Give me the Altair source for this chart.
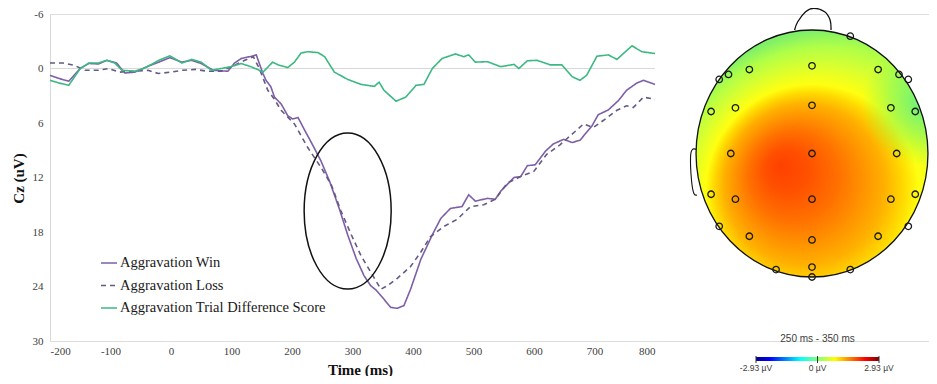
import altair as alt
import pandas as pd

# ---------------- ERP waveforms at Cz (time ms, amplitude uV) ----------------
win_t = [-200, -185, -169, -150, -136, -120, -106, -90, -76, -60, -38, -20, -2, 18, 34, 50, 70, 94, 105, 116,
         133, 141, 146, 152, 157, 165, 171, 182, 188, 193, 201, 210, 223, 234, 248, 262, 278, 292, 306, 319,
         330, 339, 352, 363, 374, 385, 396, 413, 432, 446, 462, 481, 492, 503, 523, 536, 545, 567, 578, 589,
         602, 619, 632, 649, 663, 676, 696, 706, 723, 740, 753, 770, 781, 800]
win_v = [0.75, 1.1, 1.4, 0.0, -0.55, -0.5, -0.9, -0.6, 0.5, 0.4, -0.25, -0.7, -1.2, -0.7, -0.9, -0.55, 0.2, 0.3, -0.6, -1.1,
         -1.35, -1.5, -0.55, 0.55, 1.3, 2.0, 3.15, 3.9, 4.6, 5.2, 5.55, 5.4, 7.05, 8.4, 10.2, 12.4, 15.4, 18.3, 20.9, 22.8,
         23.9, 24.4, 25.4, 26.3, 26.4, 26.1, 24.3, 21.0, 18.3, 16.5, 15.4, 15.2, 13.9, 14.6, 14.3, 14.4, 13.5, 12.0, 11.9, 10.7,
         10.6, 9.1, 8.3, 7.8, 8.15, 7.9, 6.3, 5.1, 4.55, 3.5, 2.4, 1.6, 1.3, 1.75]

loss_t = [-200, -178, -160, -142, -120, -103, -86, -60, -38, -21, 0, 18, 40, 60, 83, 105, 122, 136, 146, 160,
          170, 182, 204, 226, 248, 265, 281, 298, 314, 330, 347, 358, 374, 396, 413, 429, 451, 473, 495, 517,
          536, 556, 578, 600, 621, 643, 660, 682, 698, 715, 737, 753, 764, 781, 800]
loss_v = [-0.6, -0.6, -0.35, 0.2, 0.2, 0.0, 0.4, 0.3, 0.2, 0.55, 0.4, 0.2, 0.1, 0.3, 0.3, -0.35, -0.9, -1.3, 0.0, 2.4,
          3.3, 4.6, 6.1, 8.7, 10.9, 12.8, 15.7, 18.3, 20.6, 22.4, 24.3, 23.9, 23.1, 21.8, 20.2, 18.5, 17.4, 16.6, 15.2, 15.0,
          14.4, 12.6, 11.9, 11.3, 9.45, 8.4, 7.4, 6.1, 6.5, 5.7, 4.6, 4.1, 4.3, 3.15, 3.4]

diff_t = [-200, -185, -169, -150, -136, -120, -106, -93, -81, -60, -45, -20, -2, 18, 34, 50, 67, 83, 99, 116,
          132, 146, 152, 168, 177, 193, 204, 215, 226, 243, 254, 270, 292, 314, 336, 344, 352, 372, 388, 405,
          418, 432, 448, 470, 484, 492, 503, 523, 545, 567, 575, 589, 605, 627, 646, 663, 676, 687, 704, 723,
          737, 762, 778, 800]
diff_v = [1.3, 1.6, 1.85, 0.0, -0.6, -0.6, -0.9, -0.6, 0.2, 0.3, 0.0, -0.9, -1.4, -0.6, -1.0, -0.7, 0.2, 0.0, -0.2, -0.55,
          -0.2, 0.2, 0.4, -0.7, -0.4, -0.1, -0.7, -1.7, -1.85, -1.75, -1.3, 0.4, 1.2, 1.75, 1.97, 1.5, 2.4, 3.6, 3.15, 1.85,
          1.75, 0.0, -1.1, -1.6, -1.3, -1.5, -0.7, -0.75, -0.2, -0.45, 0.0, -0.85, -0.9, -0.4, -0.4, 0.9, 1.3, 0.75, -1.35, -1.5,
          -1.0, -2.5, -1.85, -1.65]

series_names = ["Aggravation Win", "Aggravation Loss", "Aggravation Trial Difference Score"]
series_colors = ["#7d5fa8", "#655985", "#3cb882"]
series_dash = [[1, 0], [5, 4], [1, 0]]

x_ticks = [-200, -100, 0, 100, 200, 300, 400, 500, 600, 700, 800]
y_ticks = [-6, 0, 6, 12, 18, 24, 30]

# annotation ellipse centre (ms, uV)
ellipse_t = [292]
ellipse_v = [15.7]

# ---------------- Topographic map (head-normalised coordinates) ----------------
elec_x = [0.33, 0.0, -0.54, -0.72, -0.80, 0.57, 0.75, 0.83, -0.87, -0.66, 0.0, 0.68, 0.89, -0.70, 0.0,
          0.73, -0.87, -0.66, 0.0, 0.68, 0.89, -0.80, -0.54, 0.0, 0.57, 0.83, -0.31, 0.0, 0.33, 0.0]
elec_y = [0.95, 0.71, 0.68, 0.64, 0.60, 0.68, 0.64, 0.60, 0.34, 0.37, 0.39, 0.37, 0.34, 0.0, 0.0,
          0.0, -0.33, -0.37, -0.37, -0.37, -0.33, -0.59, -0.67, -0.70, -0.67, -0.59, -0.94, -0.92, -0.94, -1.0]
nose_x = [-0.15, -0.123, -0.055, 0.014, 0.109, 0.156, 0.164]
nose_y = [1.0, 1.067, 1.148, 1.176, 1.148, 1.081, 1.0]
ear_x = [-0.984, -1.03, -1.047, -1.039, -1.019, -0.992]
ear_y = [0.028, 0.034, -0.026, -0.215, -0.322, -0.336]

cbar_vals = [-2.93, 0.0, 2.93]
cbar_labels = ["-2.93 µV", "0 µV", "2.93 µV"]
cbar_title = "250 ms - 350 ms"

SERIF = "Liberation Serif"
SANS = "Liberation Sans"

# ---------------- ERP panel ----------------
frames = []
for name, ts, vs in zip(series_names, [win_t, loss_t, diff_t], [win_v, loss_v, diff_v]):
    frames.append(pd.DataFrame({"t": ts, "v": vs, "series": name}))
erp_df = pd.concat(frames, ignore_index=True)

x_scale = alt.Scale(domain=[-200, 800], range=[0, 605], nice=False, zero=False)
y_scale = alt.Scale(domain=[-6, 30], reverse=True, nice=False, zero=False)
x_axis = alt.Axis(values=x_ticks, title="Time (ms)", domain=False, ticks=False, grid=False,
                  labelExpr="'' + datum.value",
                  labelPadding=4, labelFont=SERIF, labelFontSize=11, labelColor="#404040",
                  titleFont=SERIF, titleFontSize=15, titleFontWeight="bold", titleColor="#111111",
                  titleX=310, titleY=28, titleBaseline="middle", titleAlign="center")
y_axis = alt.Axis(values=y_ticks, title="Cz (uV)", domain=True, domainColor="#d9d9d9", ticks=False, grid=False,
                  labelExpr="'' + datum.value",
                  labelPadding=7, labelFont=SERIF, labelFontSize=11, labelColor="#404040",
                  titleFont=SERIF, titleFontSize=15, titleFontWeight="bold", titleColor="#111111",
                  titleX=-32, titleY=164, titleAngle=270, titleBaseline="middle", titleAlign="center")

legend = alt.Legend(title=None, orient="none", legendX=50, legendY=240, symbolType="stroke",
                    symbolSize=256, symbolStrokeWidth=1.6, labelFont=SERIF, labelFontSize=14.5,
                    labelColor="#1a1a1a", labelOffset=2, rowPadding=6.5, padding=0, labelLimit=400)

lines = alt.Chart(erp_df).mark_line(strokeWidth=1.6).encode(
    x=alt.X("t:Q", scale=x_scale, axis=x_axis),
    y=alt.Y("v:Q", scale=y_scale, axis=y_axis),
    color=alt.Color("series:N", scale=alt.Scale(domain=series_names, range=series_colors), legend=legend),
    strokeDash=alt.StrokeDash("series:N", scale=alt.Scale(domain=series_names, range=series_dash), legend=legend),
)

zero_df = pd.DataFrame({"t": [x_ticks[0]], "t2": [x_ticks[-1]], "v": [0]})
zero_rule = alt.Chart(zero_df).mark_rule(color="#d9d9d9", strokeWidth=1).encode(
    x=alt.X("t:Q", scale=x_scale, axis=x_axis), x2="t2:Q",
    y=alt.Y("v:Q", scale=y_scale, axis=y_axis),
)

ellipse_path = ("M 0 -1 C 0.308 -1 0.558 -0.552 0.558 0 C 0.558 0.552 0.308 1 0 1 "
                "C -0.308 1 -0.558 0.552 -0.558 0 C -0.558 -0.552 -0.308 -1 0 -1 Z")
ell_df = pd.DataFrame({"t": ellipse_t, "v": ellipse_v})
ellipse = alt.Chart(ell_df).mark_point(shape=ellipse_path, size=24336, filled=False, stroke="#111111",
                                       strokeWidth=1.5, opacity=1).encode(
    x=alt.X("t:Q", scale=x_scale, axis=x_axis),
    y=alt.Y("v:Q", scale=y_scale, axis=y_axis),
)

erp = alt.layer(zero_rule, lines, ellipse)

# ---------------- Head map panel ----------------
hx = alt.Scale(domain=[-1, 1], range=[646, 878], nice=False, zero=False)
hy = alt.Scale(domain=[-1, 1], range=[263, 16], nice=False, zero=False)

head_path = ("M 0 -1 C 0.519 -1 0.939 -0.552 0.939 0 C 0.939 0.552 0.519 1 0 1 "
             "C -0.519 1 -0.939 0.552 -0.939 0 C -0.939 -0.552 -0.519 -1 0 -1 Z")

main_grad = {
    "gradient": "radial", "x1": 0.37, "y1": 0.547, "r1": 0,
    "x2": 0.589, "y2": 0.721, "r2": 0.72,
    "stops": [
        {"offset": 0.0, "color": "#ff4000"},
        {"offset": 0.12, "color": "#ff5000"},
        {"offset": 0.25, "color": "#ff7000"},
        {"offset": 0.35, "color": "#ff9000"},
        {"offset": 0.45, "color": "#ffb000"},
        {"offset": 0.53, "color": "#ffd800"},
        {"offset": 0.6, "color": "#ffff10"},
        {"offset": 0.74, "color": "#d8ff30"},
        {"offset": 0.88, "color": "#b0ff48"},
        {"offset": 1.0, "color": "#80f068"},
    ],
}
corner_grad = {
    "gradient": "radial", "x1": 0.95, "y1": 0.3, "r1": 0,
    "x2": 0.95, "y2": 0.3, "r2": 0.25,
    "stops": [
        {"offset": 0.0, "color": "rgba(70,235,150,0.75)"},
        {"offset": 0.55, "color": "rgba(90,245,120,0.4)"},
        {"offset": 1.0, "color": "rgba(110,250,90,0)"},
    ],
}

center_df = pd.DataFrame({"x": [0.0], "y": [0.0]})
head_fill = alt.Chart(center_df).mark_point(shape=head_path, size=61009, filled=True, fill=main_grad,
                                            strokeWidth=0, opacity=1).encode(
    x=alt.X("x:Q", scale=hx, axis=None), y=alt.Y("y:Q", scale=hy, axis=None))
head_corner = alt.Chart(center_df).mark_point(shape=head_path, size=61009, filled=True, fill=corner_grad,
                                              strokeWidth=0, opacity=1).encode(
    x=alt.X("x:Q", scale=hx, axis=None), y=alt.Y("y:Q", scale=hy, axis=None))
head_outline = alt.Chart(center_df).mark_point(shape=head_path, size=61009, filled=False, stroke="#111111",
                                               strokeWidth=1.3, opacity=1).encode(
    x=alt.X("x:Q", scale=hx, axis=None), y=alt.Y("y:Q", scale=hy, axis=None))

nose_df = pd.DataFrame({"x": nose_x, "y": nose_y, "i": list(range(len(nose_x)))})
nose = alt.Chart(nose_df).mark_line(color="#111111", strokeWidth=1.3, interpolate="cardinal").encode(
    x=alt.X("x:Q", scale=hx, axis=None), y=alt.Y("y:Q", scale=hy, axis=None), order="i:Q")
ear_df = pd.DataFrame({"x": ear_x, "y": ear_y, "i": list(range(len(ear_x)))})
ear = alt.Chart(ear_df).mark_line(color="#111111", strokeWidth=1.1, interpolate="cardinal").encode(
    x=alt.X("x:Q", scale=hx, axis=None), y=alt.Y("y:Q", scale=hy, axis=None), order="i:Q")

elec_df = pd.DataFrame({"x": elec_x, "y": elec_y})
electrodes = alt.Chart(elec_df).mark_point(shape="circle", size=42, filled=False, stroke="#1a1a1a",
                                           strokeWidth=1.3, opacity=1).encode(
    x=alt.X("x:Q", scale=hx, axis=None), y=alt.Y("y:Q", scale=hy, axis=None))

head = alt.layer(nose, ear, head_fill, head_corner, head_outline, electrodes)

# ---------------- Colour bar ----------------
cx = alt.Scale(domain=[cbar_vals[0], cbar_vals[-1]], range=[706, 829], nice=False, zero=False)
jet = {
    "gradient": "linear", "x1": 0, "y1": 0, "x2": 1, "y2": 0,
    "stops": [
        {"offset": 0.0, "color": "#00008f"},
        {"offset": 0.11, "color": "#0000ff"},
        {"offset": 0.36, "color": "#00ffff"},
        {"offset": 0.5, "color": "#80ff80"},
        {"offset": 0.64, "color": "#ffff00"},
        {"offset": 0.89, "color": "#ff0000"},
        {"offset": 1.0, "color": "#800000"},
    ],
}
bar_df = pd.DataFrame({"lo": [cbar_vals[0]], "hi": [cbar_vals[-1]]})
cbar = alt.Chart(bar_df).mark_rect(fill=jet).encode(
    x=alt.X("lo:Q", scale=cx, axis=None), x2="hi:Q", y=alt.value(343), y2=alt.value(347))
lab_df = pd.DataFrame({"val": cbar_vals, "lab": cbar_labels})
cticks = alt.Chart(lab_df).mark_rule(color="#333333", strokeWidth=1).encode(
    x=alt.X("val:Q", scale=cx, axis=None), y=alt.value(342), y2=alt.value(349))
clabels = alt.Chart(lab_df).mark_text(font=SANS, fontSize=8.5, color="#404040", baseline="middle").encode(
    x=alt.X("val:Q", scale=cx, axis=None), y=alt.value(354), text="lab:N")
title_df = pd.DataFrame({"val": [cbar_vals[1]], "lab": [cbar_title]})
ctitle = alt.Chart(title_df).mark_text(font=SANS, fontSize=10, color="#404040", baseline="middle").encode(
    x=alt.X("val:Q", scale=cx, axis=None), y=alt.value(325), text="lab:N")

colorbar = alt.layer(cbar, cticks, clabels, ctitle)

chart = alt.layer(erp, head, colorbar).resolve_scale(
    x="independent", y="independent"
).properties(
    width=879, height=327,
    autosize=alt.AutoSizeParams(type="none"),
    padding={"left": 42, "top": 6, "right": 0, "bottom": 35},
).configure_view(stroke=None).configure(background="white")

chart.save("out.html", embed_options={"renderer": "svg", "actions": False})
